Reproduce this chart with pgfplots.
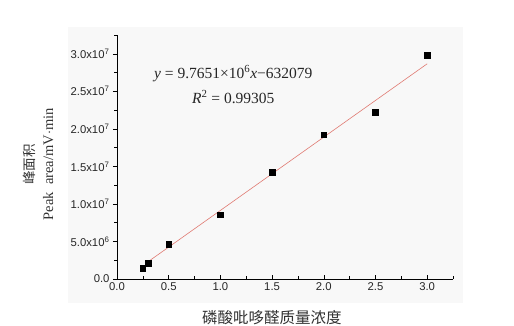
\documentclass[border=0pt]{standalone}
\usepackage{fontspec}
\setmainfont{Liberation Serif}
\newfontfamily\cjk{Noto Sans CJK SC}
\newfontfamily\arial{Liberation Sans}
\usepackage{pgfplots}
\pgfplotsset{compat=1.18}
\definecolor{fitred}{HTML}{E07A72}
\definecolor{panel}{HTML}{F8F8F8}
\begin{document}
\begin{tikzpicture}[x=1pt,y=1pt]
\useasboundingbox (0,0) rectangle (514,326);
\fill[white] (0,0) rectangle (514,326);
\fill[panel] (68,23) rectangle (463,299);
\begin{axis}[
  at={(117pt,47pt)}, anchor=south west,
  scale only axis, width=336pt, height=244pt,
  xmin=0, xmax=3.25, ymin=0, ymax=3.25e7,
  axis x line*=bottom, axis y line*=left,
  axis line style={-, black, line width=0.6pt},
  xtick={0,0.5,1,1.5,2,2.5,3},
  xticklabels={0.0,0.5,1.0,1.5,2.0,2.5,3.0},
  minor xtick={0.25,0.75,1.25,1.75,2.25,2.75,3.25},
  ytick={0,5e6,1e7,1.5e7,2e7,2.5e7,3e7},
  yticklabels={0.0,5.0x10\textsuperscript{6},1.0x10\textsuperscript{7},1.5x10\textsuperscript{7},2.0x10\textsuperscript{7},2.5x10\textsuperscript{7},3.0x10\textsuperscript{7}},
  minor ytick={2.5e6,7.5e6,1.25e7,1.75e7,2.25e7,2.75e7,3.25e7},
  scaled ticks=false,
  /pgf/number format/assume math mode=true,
  tick label style={font=\arial\fontsize{11.3}{13}\selectfont, text=black!85},
  xtick align=inside, ytick align=outside,
  major tick length=4pt, minor tick length=2.5pt,
  tick style={black, line width=0.5pt},
  xlabel={\cjk 磷酸吡哆醛质量浓度},
  xlabel style={at={(axis description cs:0.461,-0.16)}, anchor=center, font=\fontsize{15.5}{17}\selectfont, text=black!80},
  ylabel={{\cjk\fontsize{13.5}{19}\selectfont 峰面积}\\{\fontsize{14.5}{19}\selectfont Peak\ \ area/mV$\cdot$min}},
  ylabel style={at={(axis description cs:-0.235,0.47)}, anchor=center, align=center, font=\fontsize{14.5}{19}\selectfont, text=black!80},
  clip=false,
]
\addplot[only marks, mark=square*, mark size=2.8pt, black] coordinates {
  (0.25,1.45e6) (0.3,2.1e6) (0.5,4.65e6) (1.0,8.55e6) (1.5,14.25e6)
  (2.0,19.2e6) (2.5,22.25e6) (3.0,29.8e6)
};
\addplot[fitred, line width=0.6pt] coordinates {(0.3,2297451) (3.0,28663221)};
\node[align=center, font=\fontsize{15.5}{25}\selectfont, text=black!85] at (axis cs:1.125,25.9e6)
  {$\textit{y}$ = 9.7651×10\textsuperscript{6}\textit{x}−632079\\\textit{R}\textsuperscript{2} = 0.99305};
\end{axis}
\end{tikzpicture}
\end{document}
